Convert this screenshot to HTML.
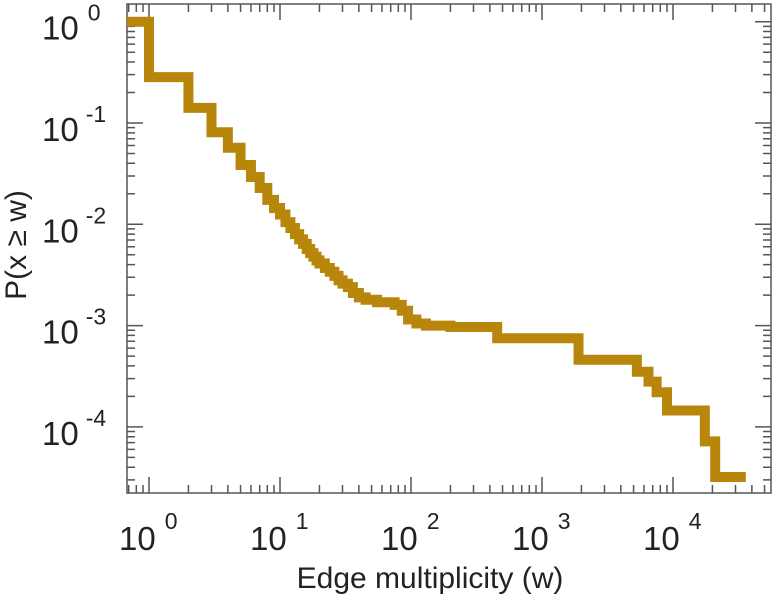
<!DOCTYPE html>
<html><head><meta charset="utf-8"><style>
body{margin:0;background:#fff}
svg text{font-family:"Liberation Sans",sans-serif;fill:#222}
</style></head><body>
<svg id="chart" width="773" height="600" viewBox="0 0 773 600" xmlns="http://www.w3.org/2000/svg">
<g id="axes"></g><g id="series"></g><g id="labels"></g>
<text x="430" y="588" font-size="30" text-anchor="middle">Edge multiplicity (w)</text>
<text transform="translate(26,245) rotate(-90)" font-size="30" text-anchor="middle">P(x ≥ w)</text>
</svg>
<script>
const xTickExps=[0,1,2,3,4];
const yTickExps=[0,-1,-2,-3,-4];
const stepW=[0.68,1,2,3,4,5,6,7,8,9,10,11,12,13,14,15,16,17,18,19,20,22,24,26,28,30,33,36,40,45,55,65,75,85,95,110,130,200,455,1900,5300,6500,7500,9000,17500,21000,36000];
const stepP=[1.0,0.284,0.141,0.081,0.057,0.0385,0.0293,0.0228,0.0174,0.0145,0.0125,0.0105,0.0092,0.008,0.0071,0.0064,0.0057,0.0052,0.0048,0.0044,0.0041,0.0037,0.0034,0.0031,0.0028,0.0026,0.0024,0.0021,0.0019,0.0018,0.0017,0.0017,0.0016,0.0014,0.00115,0.00105,0.001,0.00097,0.00075,0.00046,0.00035,0.00028,0.00022,0.000145,0.000072,0.000032];
const L=127,R=771,T=4,B=493;
const X=w=>149+131*Math.log10(w);
const Y=p=>21.7-101.3*Math.log10(p);
const NS='http://www.w3.org/2000/svg';
function mk(t,a,parent){const e=document.createElementNS(NS,t);for(const k in a)e.setAttribute(k,a[k]);parent.appendChild(e);return e;}
const axes=document.getElementById('axes'),series=document.getElementById('series'),labels=document.getElementById('labels');
const frame=mk('rect',{x:L,y:T,width:R-L,height:B-T,fill:'none',stroke:'#555','stroke-width':1.5},axes);


let td='';
for(let e=-1;e<=4;e++)for(let m=1;m<10;m++){const x=X(m*Math.pow(10,e));if(x<L||x>R)continue;const len=m==1?16:8;td+=`M${x},${B}v${-len}M${x},${T}v${len}`;}
for(let e=0;e>=-5;e--)for(let m=1;m<10;m++){const y=Y(m*Math.pow(10,e));if(y<T||y>B)continue;const len=m==1?16:8;td+=`M${L},${y}h${len}M${R},${y}h${-len}`;}
const ticks=mk('path',{d:td,stroke:'#555','stroke-width':1.5,fill:'none'},axes);


xTickExps.forEach(e=>{const t=mk('text',{x:X(Math.pow(10,e))-30,y:550,'font-size':33},labels);


t.innerHTML='10<tspan dx="9" dy="-21" font-size="23">'+e+'</tspan>';});
yTickExps.forEach(e=>{const t=mk('text',{x:42,y:Y(Math.pow(10,e))+18,'font-size':33},labels);


t.innerHTML='10<tspan dx="'+(e<0?7:9)+'" dy="-19" font-size="23">'+e+'</tspan>';});
let d=`M${X(stepW[0])},${Y(stepP[0])}`;
for(let i=0;i<stepP.length;i++){d+=`L${X(stepW[i+1])},${Y(stepP[i])}`;if(i+1<stepP.length)d+=`L${X(stepW[i+1])},${Y(stepP[i+1])}`;}
const line=mk('path',{d:d,stroke:'#b8860b','stroke-width':10,fill:'none','stroke-linejoin':'miter','stroke-linecap':'butt'},series);


</script>
</body></html>
